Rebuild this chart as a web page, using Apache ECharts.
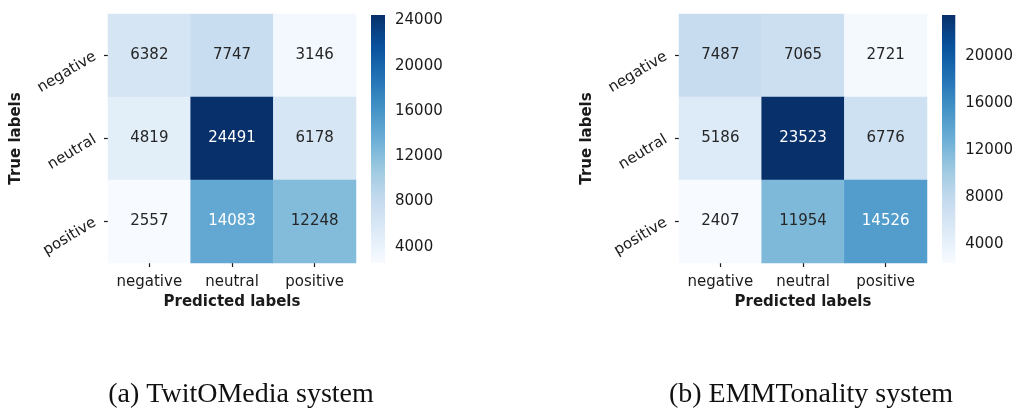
<!DOCTYPE html>
<html>
<head>
<meta charset="utf-8">
<script src="https://cdn.jsdelivr.net/npm/echarts@6/dist/echarts.min.js"></script>
<style>
  html, body { margin: 0; padding: 0; background: #ffffff; }
  #chart { width: 1016px; height: 409px; }
</style>
</head>
<body>
<div id="chart"></div>
<script>
// Class labels (rows = true, columns = predicted)
const classes = ['negative', 'neutral', 'positive'];

// Confusion matrix counts, one row per true label
const twitRows = [
  [6382, 7747, 3146],
  [4819, 24491, 6178],
  [2557, 14083, 12248]
];
const emmRows = [
  [7487, 7065, 2721],
  [5186, 23523, 6776],
  [2407, 11954, 14526]
];

// Colour-bar tick values
const twitTicks = [4000, 8000, 12000, 16000, 20000, 24000];
const emmTicks = [4000, 8000, 12000, 16000, 20000];

// Panel captions
const captions = ['(a) TwitOMedia system', '(b) EMMTonality system'];

// matplotlib "Blues" colour map
const blues = ['#f7fbff', '#deebf7', '#c6dbef', '#9ecae1', '#6baed6', '#4292c6', '#2171b5', '#08519c', '#08306b'];

const FONT = 'DejaVu Sans';
const INK = '#1a1a1a';

function cells(rows) {
  const flat = rows.flat();
  const lo = Math.min(...flat), hi = Math.max(...flat);
  const out = [];
  rows.forEach((row, r) => row.forEach((v, c) => {
    const t = (v - lo) / (hi - lo);
    out.push({ value: [c, r, v], label: { color: t > 0.5 ? '#ffffff' : '#262626' } });
  }));
  return { data: out, lo, hi };
}

const A = cells(twitRows);
const B = cells(emmRows);

const gridA = { left: 108, top: 14, width: 248, height: 249 };
const barA = { left: 371, top: 15, width: 14, height: 248 };
const gridB = { left: 679, top: 14, width: 248, height: 249 };
const barB = { left: 942, top: 15, width: 14, height: 248 };

function catX(gi) {
  return {
    type: 'category', gridIndex: gi, data: classes, position: 'bottom',
    axisLine: { show: false },
    axisTick: { show: true, alignWithLabel: true, length: 4, lineStyle: { color: INK, width: 1.2 } },
    axisLabel: { fontFamily: FONT, fontSize: 15, color: INK, margin: 12, interval: 0 },
    name: 'Predicted labels', nameLocation: 'middle', nameGap: 32,
    nameTextStyle: { fontFamily: FONT, fontSize: 15, fontWeight: 'bold', color: INK },
    splitLine: { show: false }
  };
}
function catY(gi) {
  return {
    type: 'category', gridIndex: gi, data: classes, inverse: true,
    axisLine: { show: false },
    axisTick: { show: true, alignWithLabel: true, length: 4, lineStyle: { color: INK, width: 1.2 } },
    axisLabel: { fontFamily: FONT, fontSize: 15, color: INK, rotate: 31, margin: 13, interval: 0 },
    name: 'True labels', nameLocation: 'middle', nameGap: 84, nameRotate: 90,
    nameTextStyle: { fontFamily: FONT, fontSize: 15, fontWeight: 'bold', color: INK },
    splitLine: { show: false }
  };
}
function barX(gi) {
  return { type: 'value', gridIndex: gi, min: 0, max: 1, show: false };
}
function barY(gi, lo, hi, ticks) {
  return {
    type: 'value', gridIndex: gi, min: lo, max: hi, position: 'right',
    axisLine: { show: false },
    splitLine: { show: false },
    axisTick: { show: true, length: 4, customValues: ticks, lineStyle: { color: INK, width: 1.2 } },
    axisLabel: { fontFamily: FONT, fontSize: 15, color: INK, margin: 10, customValues: ticks,
      formatter: v => String(Math.round(v)) }
  };
}

function heat(gi, d) {
  return {
    type: 'heatmap', xAxisIndex: gi, yAxisIndex: gi, data: d.data,
    label: { show: true, fontFamily: FONT, fontSize: 15 },
    itemStyle: { borderWidth: 0 },
    emphasis: { disabled: true }
  };
}

function colorBar(gi, d) {
  return {
    type: 'custom', xAxisIndex: gi, yAxisIndex: gi,
    data: [[0, d.lo, d.hi]],
    silent: true,
    renderItem: function (params, api) {
      const cs = params.coordSys;
      const top = api.coord([0, api.value(2)]);
      const bot = api.coord([0, api.value(1)]);
      return {
        type: 'rect',
        shape: { x: cs.x, y: top[1], width: cs.width, height: bot[1] - top[1] },
        style: {
          fill: new echarts.graphic.LinearGradient(0, 1, 0, 0,
            blues.map((c, i) => ({ offset: i / (blues.length - 1), color: c })))
        }
      };
    }
  };
}

const chart = echarts.init(document.getElementById('chart'), null, { renderer: 'canvas' });
chart.setOption({
  animation: false,
  backgroundColor: '#ffffff',
  title: [
    { text: captions[0], left: 236, top: 376, textAlign: 'center',
      textStyle: { fontFamily: 'Liberation Serif', fontSize: 28, fontWeight: 'normal', color: '#111' } },
    { text: captions[1], left: 806, top: 376, textAlign: 'center',
      textStyle: { fontFamily: 'Liberation Serif', fontSize: 28, fontWeight: 'normal', color: '#111' } }
  ],
  grid: [gridA, barA, gridB, barB],
  xAxis: [catX(0), barX(1), catX(2), barX(3)],
  yAxis: [catY(0), barY(1, A.lo, A.hi, twitTicks), catY(2), barY(3, B.lo, B.hi, emmTicks)],
  visualMap: [
    { type: 'continuous', show: false, seriesIndex: 0, min: A.lo, max: A.hi, inRange: { color: blues } },
    { type: 'continuous', show: false, seriesIndex: 1, min: B.lo, max: B.hi, inRange: { color: blues } }
  ],
  series: [heat(0, A), heat(2, B), colorBar(1, A), colorBar(3, B)]
});
</script>
</body>
</html>
